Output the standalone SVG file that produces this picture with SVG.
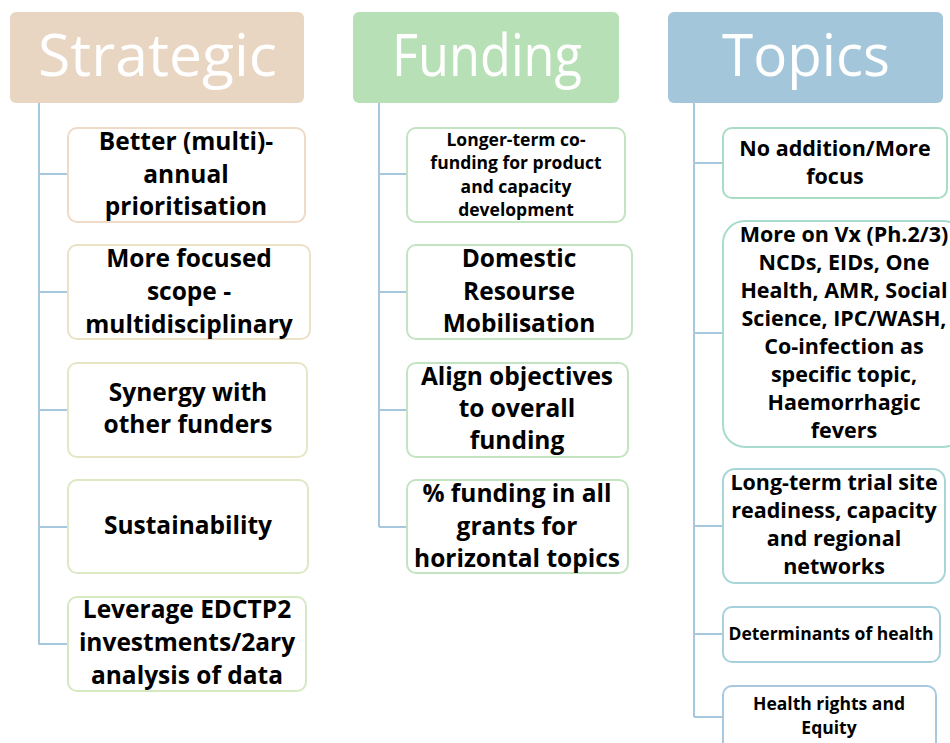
<svg xmlns="http://www.w3.org/2000/svg" width="950" height="743" viewBox="0 0 950 743">
  <style>
    .hdr { stroke: none; }
    .hdr-text { font-family: "Open Sans", Lato, sans-serif; font-size: 58px; fill: #ffffff; text-anchor: middle; }
    .box { fill: #ffffff; stroke-width: 2; }
    .lbl { font-family: "Open Sans", Lato, sans-serif; font-weight: bold; fill: #000000; text-anchor: middle; }
    .l24 { font-size: 24.5px; }
    .l21 { font-size: 21.5px; }
    .l18 { font-size: 17.5px; }
    .l17 { font-size: 17.5px; }
    .conn { fill: none; stroke: #a6c8de; stroke-width: 2; }
  </style>

  <!-- connectors: one trunk per column with a branch to each item -->
  <g id="connectors">
    <path class="conn" d="M39,103 V645 M39,174 H68 M39,292 H68 M39,410 H68 M39,527 H68 M39,644 H68"/>
    <path class="conn" d="M379,103 V527 M379,174 H407 M379,292 H407 M379,410 H407 M379,527 H407"/>
    <path class="conn" d="M694,103 V717 M694,163 H723 M694,333 H723 M694,526 H723 M694,634 H723 M694,717 H723"/>
  </g>

  <!-- Strategic column -->
  <g id="strategic">
    <rect class="hdr" x="10" y="12" width="294" height="91" rx="6" fill="#e8d5c2"/>
    <text class="hdr-text" x="157.5" y="76" textLength="239" lengthAdjust="spacingAndGlyphs">Strategic</text>
  </g>
  <g id="s1">
    <rect class="box" x="68" y="128" width="237" height="94" rx="9" stroke="#efdac8"/>
    <text class="lbl l24" x="186" y="150">Better (multi)-</text>
    <text class="lbl l24" x="186" y="183">annual</text>
    <text class="lbl l24" x="186" y="215">prioritisation</text>
  </g>
  <g id="s2">
    <rect class="box" x="68" y="245" width="242" height="94" rx="9" stroke="#ebe1c6"/>
    <text class="lbl l24" x="189" y="267">More focused</text>
    <text class="lbl l24" x="189" y="300">scope -</text>
    <text class="lbl l24" x="189" y="333">multidisciplinary</text>
  </g>
  <g id="s3">
    <rect class="box" x="68" y="363" width="239" height="94" rx="9" stroke="#e6e6c6"/>
    <text class="lbl l24" x="188" y="401">Synergy with</text>
    <text class="lbl l24" x="188" y="433">other funders</text>
  </g>
  <g id="s4">
    <rect class="box" x="68" y="480" width="240" height="93" rx="9" stroke="#dde8c4"/>
    <text class="lbl l24" x="188" y="534">Sustainability</text>
  </g>
  <g id="s5">
    <rect class="box" x="68" y="597" width="238" height="94" rx="9" stroke="#d6e8c2"/>
    <text class="lbl l24" x="187" y="618">Leverage EDCTP2</text>
    <text class="lbl l24" x="187" y="651">investments/2ary</text>
    <text class="lbl l24" x="187" y="684">analysis of data</text>
  </g>

  <!-- Funding column -->
  <g id="funding">
    <rect class="hdr" x="353" y="12" width="266" height="91" rx="6" fill="#b8e0b6"/>
    <text class="hdr-text" x="487" y="76" textLength="190" lengthAdjust="spacingAndGlyphs">Funding</text>
  </g>
  <g id="f1">
    <rect class="box" x="407" y="128" width="218" height="94" rx="9" stroke="#c2e4c0"/>
    <text class="lbl l17" x="516" y="146">Longer-term co-</text>
    <text class="lbl l17" x="516" y="169">funding for product</text>
    <text class="lbl l17" x="516" y="193">and capacity</text>
    <text class="lbl l17" x="516" y="216">development</text>
  </g>
  <g id="f2">
    <rect class="box" x="407" y="245" width="225" height="94" rx="9" stroke="#c2e4c0"/>
    <text class="lbl l24" x="519" y="267">Domestic</text>
    <text class="lbl l24" x="519" y="300">Resourse</text>
    <text class="lbl l24" x="519" y="332">Mobilisation</text>
  </g>
  <g id="f3">
    <rect class="box" x="407" y="363" width="221" height="94" rx="9" stroke="#c2e4c0"/>
    <text class="lbl l24" x="517" y="385">Align objectives</text>
    <text class="lbl l24" x="517" y="417">to overall</text>
    <text class="lbl l24" x="517" y="449">funding</text>
  </g>
  <g id="f4">
    <rect class="box" x="407" y="480" width="221" height="93" rx="9" stroke="#c2e4c0"/>
    <text class="lbl l24" x="517" y="502">% funding in all</text>
    <text class="lbl l24" x="517" y="535">grants for</text>
    <text class="lbl l24" x="517" y="567">horizontal topics</text>
  </g>

  <!-- Topics column -->
  <g id="topics">
    <rect class="hdr" x="668" y="12" width="275" height="91" rx="6" fill="#a3c6da"/>
    <text class="hdr-text" x="806" y="76" textLength="168" lengthAdjust="spacingAndGlyphs">Topics</text>
  </g>
  <g id="t1">
    <rect class="box" x="723" y="128" width="224" height="70" rx="9" stroke="#a8dcc4"/>
    <text class="lbl l21" x="835" y="156">No addition/More</text>
    <text class="lbl l21" x="835" y="184">focus</text>
  </g>
  <g id="t2">
    <rect class="box" x="723" y="221" width="242" height="226" rx="22" stroke="#a8dcce"/>
    <text class="lbl l21" x="844" y="242">More on Vx (Ph.2/3)</text>
    <text class="lbl l21" x="844" y="270">NCDs, EIDs, One</text>
    <text class="lbl l21" x="844" y="298">Health, AMR, Social</text>
    <text class="lbl l21" x="844" y="326">Science, IPC/WASH,</text>
    <text class="lbl l21" x="844" y="354">Co-infection as</text>
    <text class="lbl l21" x="844" y="382">specific topic,</text>
    <text class="lbl l21" x="844" y="410">Haemorrhagic</text>
    <text class="lbl l21" x="844" y="438">fevers</text>
  </g>
  <g id="t3">
    <rect class="box" x="723" y="469" width="222" height="114" rx="12" stroke="#a8d6d8"/>
    <text class="lbl l21" x="834" y="490">Long-term trial site</text>
    <text class="lbl l21" x="834" y="518">readiness, capacity</text>
    <text class="lbl l21" x="834" y="546">and regional</text>
    <text class="lbl l21" x="834" y="574">networks</text>
  </g>
  <g id="t4">
    <rect class="box" x="723" y="607" width="217" height="55" rx="9" stroke="#a8d0dc"/>
    <text class="lbl l18" x="831" y="640">Determinants of health</text>
  </g>
  <g id="t5">
    <rect class="box" x="723" y="686" width="213" height="70" rx="9" stroke="#a8c8e0"/>
    <text class="lbl l18" x="829" y="710">Health rights and</text>
    <text class="lbl l18" x="829" y="734">Equity</text>
  </g>
</svg>
